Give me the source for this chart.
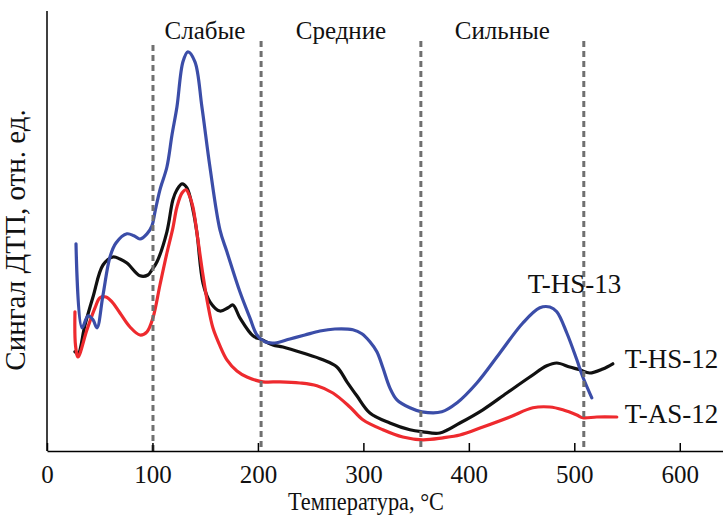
<!DOCTYPE html>
<html lang="ru">
  <head>
    <meta charset="UTF-8" />
    <title>ДТП</title>
    <script src="https://d3js.org/d3.v7.min.js"></script>
    <style>
      body {
        margin: 0;
        background: #fff;
      }
      svg {
        display: block;
        font-family: "Liberation Serif", "DejaVu Serif", serif;
      }
    </style>
  </head>
  <body>
    <script>
      // temperature, °C and signal (rel. units)
      const hs13T = [27.5, 33.2, 38.9, 43.6, 47.4, 53.1, 59.7, 65.4, 75.8, 82.5, 88.2, 94.8, 99.5, 102.4, 107.1, 113.7, 118.5, 123.2, 128.9, 133.6, 140.3, 146.9, 154.5, 164.0, 170.6, 182.9, 192.4, 199.1, 206.6, 216.1, 230.3, 244.5, 258.8, 273.0, 290.0, 298.6, 306.2, 312.8, 318.5, 325.1, 331.8, 344.1, 355.5, 374.4, 388.6, 407.6, 429.4, 451.2, 467.3, 476.8, 483.4, 492.9, 502.4, 508.1, 516.6];
      const hs13S = [0.518, 0.308, 0.338, 0.328, 0.308, 0.39, 0.485, 0.52, 0.543, 0.538, 0.53, 0.543, 0.563, 0.598, 0.653, 0.71, 0.79, 0.86, 0.973, 0.998, 0.973, 0.86, 0.71, 0.553, 0.498, 0.398, 0.333, 0.29, 0.273, 0.27, 0.28, 0.29, 0.3, 0.305, 0.303, 0.293, 0.273, 0.248, 0.208, 0.158, 0.128, 0.108, 0.098, 0.098, 0.12, 0.17, 0.245, 0.32, 0.358, 0.36, 0.348, 0.295, 0.228, 0.185, 0.133];

      const hs12T = [26.5, 29.4, 36.0, 43.6, 53.1, 62.6, 69.2, 75.8, 88.2, 95.7, 99.5, 104.3, 113.7, 119.4, 123.2, 128.0, 132.7, 138.4, 142.2, 147.9, 154.5, 164.0, 171.6, 176.3, 182.9, 195.3, 203.8, 214.2, 223.7, 242.7, 261.6, 274.9, 284.4, 293.8, 306.2, 325.1, 344.1, 356.4, 372.5, 391.5, 413.3, 436.0, 457.8, 473.9, 483.4, 495.7, 505.2, 514.7, 527.0, 536.5];
      const hs12S = [0.248, 0.243, 0.315, 0.385, 0.465, 0.485, 0.48, 0.47, 0.438, 0.44, 0.453, 0.473, 0.548, 0.628, 0.653, 0.668, 0.658, 0.603, 0.545, 0.42, 0.373, 0.35, 0.358, 0.365, 0.333, 0.288, 0.278, 0.265, 0.26, 0.245, 0.228, 0.21, 0.173, 0.138, 0.095, 0.07, 0.053, 0.048, 0.045, 0.07, 0.103, 0.145, 0.185, 0.213, 0.22, 0.21, 0.203, 0.195, 0.205, 0.218];

      const as12T = [26.5, 27.0, 29.4, 37.9, 45.5, 50.2, 55.9, 61.6, 69.2, 78.7, 88.2, 94.8, 100.5, 107.1, 113.7, 119.4, 123.2, 128.0, 131.8, 135.5, 138.4, 143.1, 147.9, 152.6, 157.3, 164.0, 170.6, 180.1, 189.6, 204.7, 220.9, 239.8, 255.9, 271.1, 287.2, 299.5, 318.5, 337.4, 356.4, 375.4, 391.5, 413.3, 438.9, 460.7, 476.8, 489.1, 502.4, 508.1, 521.3, 540.3];
      const as12S = [0.348, 0.265, 0.235, 0.303, 0.358, 0.383, 0.385, 0.373, 0.345, 0.31, 0.29, 0.298, 0.333, 0.415, 0.495, 0.558, 0.61, 0.645, 0.653, 0.635, 0.61, 0.528, 0.44, 0.365, 0.308, 0.263, 0.228, 0.2, 0.185, 0.173, 0.173, 0.17, 0.163, 0.145, 0.11, 0.078, 0.053, 0.035, 0.028, 0.033, 0.04, 0.06, 0.085, 0.108, 0.11, 0.103, 0.09, 0.083, 0.085, 0.085];

      const seriesNames = ["T-HS-13", "T-HS-12", "T-AS-12"];
      const seriesColors = ["#3b4da8", "#111111", "#ee2a2e"];
      // where each series label starts (°C, signal at baseline)
      const labelPos = [[455.9, 0.395], [547.9, 0.2075], [547.9, 0.07]];

      const bounds = [100.5, 203, 354.5, 509];
      const zoneNames = ["Слабые", "Средние", "Сильные"];
      const xTicks = [0, 100, 200, 300, 400, 500, 600];

      const width = 723;
      const height = 515;
      const margin = { top: 11, right: 0, bottom: 64, left: 47 };

      const svg = d3
        .select("body")
        .append("svg")
        .attr("width", width)
        .attr("height", height);

      const x = d3
        .scaleLinear()
        .domain([0, 641])
        .range([margin.left, width - margin.right]);
      const y = d3
        .scaleLinear()
        .domain([0, 1.1])
        .range([height - margin.bottom, margin.top]);

      const series = [
        d3.zip(hs13T, hs13S),
        d3.zip(hs12T, hs12S),
        d3.zip(as12T, as12S),
      ];

      const line = d3
        .line()
        .x((d) => x(d[0]))
        .y((d) => y(d[1]))
        .curve(d3.curveCatmullRom.alpha(0.5));

      // black first, then red, blue on top
      [1, 2, 0].forEach((i) => {
        svg
          .append("path")
          .datum(series[i])
          .attr("fill", "none")
          .attr("stroke", seriesColors[i])
          .attr("stroke-width", 3.2)
          .attr("stroke-linejoin", "round")
          .attr("stroke-linecap", "round")
          .attr("d", line);
      });

      // zone borders
      svg
        .selectAll(".bound")
        .data(bounds)
        .enter()
        .append("line")
        .attr("class", "bound")
        .attr("x1", (d) => x(d))
        .attr("x2", (d) => x(d))
        .attr("y1", (d, i) => (i === 0 ? y(1.015) : y(1.025)))
        .attr("y2", y(0))
        .attr("stroke", "#707070")
        .attr("stroke-width", 3)
        .attr("stroke-dasharray", "6,4");

      svg
        .selectAll(".zone")
        .data(zoneNames)
        .enter()
        .append("text")
        .attr("class", "zone")
        .attr("x", (d, i) => (x(bounds[i]) + x(bounds[i + 1])) / 2 - (i === 0 ? 2 : 0))
        .attr("y", 39)
        .attr("text-anchor", "middle")
        .attr("fill", "#111")
        .style("font-size", "25px")
        .text((d) => d);

      // axes
      svg
        .append("g")
        .attr("transform", `translate(0,${y(0)})`)
        .call(
          d3
            .axisBottom(x)
            .tickValues(xTicks)
            .tickSizeInner(-8)
            .tickSizeOuter(0)
            .tickPadding(14)
        )
        .call((g) => g.selectAll("path, line").attr("stroke", "#000").attr("stroke-width", 1.5))
        .call((g) => g.selectAll("text").attr("fill", "#111").style("font-size", "25px").style("font-family", "Liberation Serif"));

      svg
        .append("line")
        .attr("x1", x(0))
        .attr("x2", x(0))
        .attr("y1", margin.top)
        .attr("y2", y(0))
        .attr("stroke", "#000")
        .attr("stroke-width", 1.5);

      svg
        .append("text")
        .attr("transform", "translate(366,510) scale(0.86,1)")
        .attr("text-anchor", "middle")
        .attr("fill", "#111")
        .style("font-size", "26px")
        .text("Температура, °C");

      svg
        .append("text")
        .attr("transform", "translate(25,240) rotate(-90)")
        .attr("text-anchor", "middle")
        .attr("fill", "#111")
        .style("font-size", "29px")
        .text("Сингал ДТП, отн. ед.");

      // series labels
      svg
        .selectAll(".lab")
        .data(seriesNames)
        .enter()
        .append("text")
        .attr("class", "lab")
        .attr("x", (d, i) => x(labelPos[i][0]))
        .attr("y", (d, i) => y(labelPos[i][1]))
        .attr("fill", "#111")
        .style("font-size", "27px")
        .text((d) => d);
    </script>
  </body>
</html>
